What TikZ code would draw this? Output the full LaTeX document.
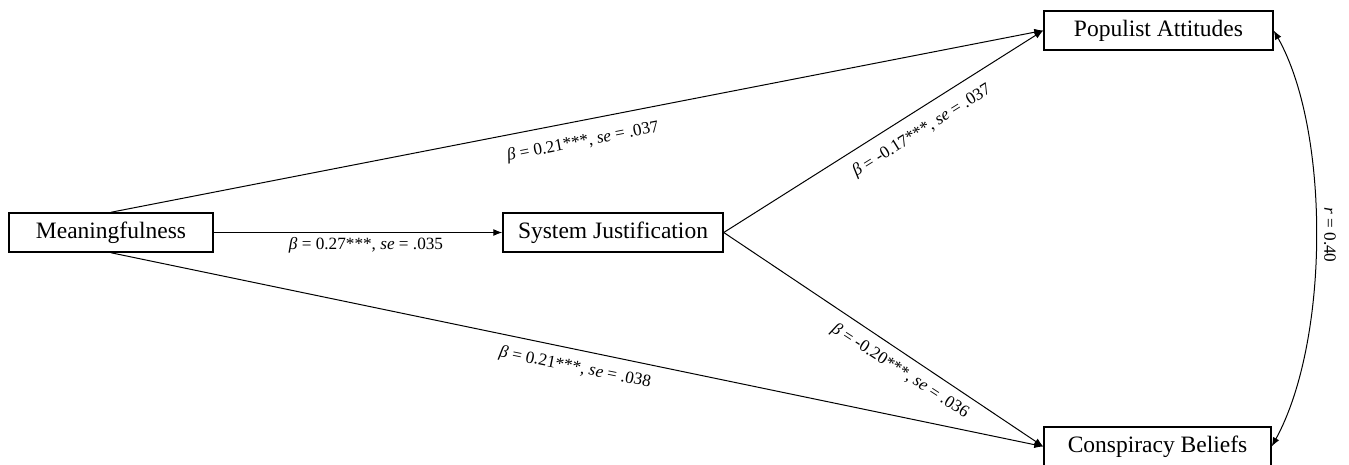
\documentclass[tikz,border=0pt]{standalone}
\usepackage{fontspec}
\setmainfont{Liberation Serif}
\usetikzlibrary{arrows.meta}
\begin{document}
\begin{tikzpicture}[x=1pt,y=-1pt,
  var/.style={draw,line width=1.5pt,rectangle,minimum height=39pt,inner sep=0pt,font=\fontsize{23.5}{27}\selectfont},
  path/.style={line width=1pt,-{Latex[length=9pt,width=7pt]}},
  lab/.style={font=\fontsize{17.2}{20}\selectfont,inner sep=1pt}]
\useasboundingbox (0,0) rectangle (1349,464);
\node[var,minimum width=204pt] (M) at (111,232.5) {Meaningfulness};
\node[var,minimum width=220pt] (S) at (613,232.5) {System Justification};
\node[var,minimum width=229pt] (P) at (1158.5,30.5) {Populist Attitudes};
\node[var,minimum width=227pt] (C) at (1157.5,446.5) {Conspiracy Beliefs};
\draw[path] (M.east) -- (S.west);
\draw[path] (M.north) -- (P.west);
\draw[path] (M.south) -- (C.west);
\draw[path] (S.east) -- (P.west);
\draw[path] (S.east) -- (C.west);
\draw[line width=1pt,{Latex[length=9pt,width=7pt]}-{Latex[length=9pt,width=7pt]}] (P.east) .. controls (1330,130) and (1330,340) .. (C.east);
\node[lab] (l1) at (366,245) {\textit{β} = 0.27***, \textit{se} = .035};
\node[lab,rotate=11] (l2) at (583,142) {\textit{β} = 0.21***, \textit{se} = .037};
\node[lab,rotate=-11.4] (l3) at (575,368) {\textit{β} = 0.21***, \textit{se} = .038};
\node[lab,rotate=32] (l4) at (922,131) {\textit{β} = -0.17***, \textit{se} = .037};
\node[lab,rotate=-33] (l5) at (900,371) {\textit{β} = -0.20***, \textit{se} = .036};
\node[lab,rotate=-90] (l6) at (1330,235) {\textit{r} = 0.40};
\end{tikzpicture}
\end{document}
